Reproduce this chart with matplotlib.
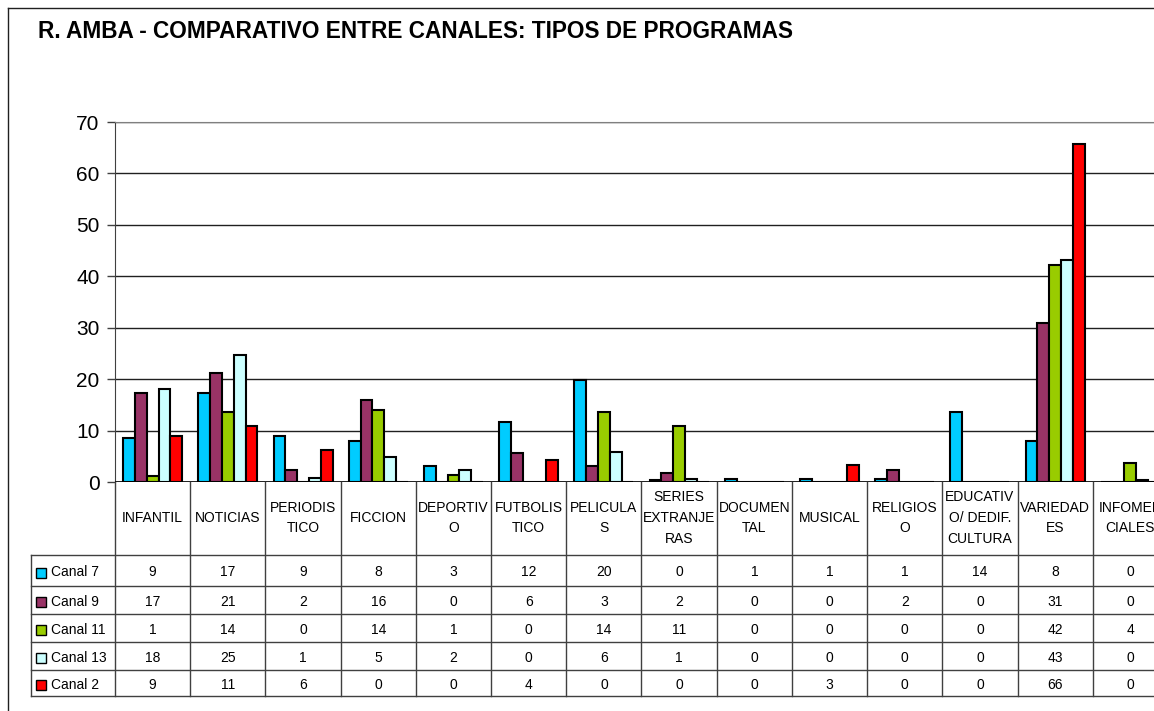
import numpy as np
import matplotlib.pyplot as plt
from matplotlib.lines import Line2D
from matplotlib.patches import Rectangle

plt.rcParams['font.family'] = ['Liberation Sans', 'DejaVu Sans']

# Program types (header of the data table)
categories = ['INFANTIL', 'NOTICIAS', 'PERIODIS\nTICO', 'FICCION', 'DEPORTIV\nO',
              'FUTBOLIS\nTICO', 'PELICULA\nS', 'SERIES\nEXTRANJE\nRAS', 'DOCUMEN\nTAL',
              'MUSICAL', 'RELIGIOS\nO', 'EDUCATIV\nO/ DEDIF.\nCULTURA', 'VARIEDAD\nES',
              'INFOMER\nCIALES']

channels = ['Canal 7', 'Canal 9', 'Canal 11', 'Canal 13', 'Canal 2']
colors = ['#00CCFF', '#993366', '#99CC00', '#CCFFFF', '#FF0000']

# bar heights (table shows them rounded)
canal_7 = [8.6, 17.3, 9.0, 7.9, 3.2, 11.7, 19.8, 0.4, 0.5, 0.5, 0.5, 13.7, 7.9, 0.0]
canal_9 = [17.4, 21.1, 2.4, 16.0, 0.0, 5.6, 3.2, 1.7, 0.0, 0.0, 2.4, 0.0, 30.9, 0.0]
canal_11 = [1.2, 13.7, 0.0, 14.0, 1.3, 0.0, 13.7, 10.9, 0.0, 0.0, 0.0, 0.0, 42.1, 3.6]
canal_13 = [18.0, 24.6, 0.8, 4.8, 2.4, 0.0, 5.9, 0.5, 0.0, 0.0, 0.0, 0.0, 43.2, 0.4]
canal_2 = [9.0, 10.9, 6.3, 0.0, 0.0, 4.3, 0.0, 0.0, 0.0, 3.4, 0.0, 0.0, 65.8, 0.0]
series = [canal_7, canal_9, canal_11, canal_13, canal_2]

W, H = 1154, 711
fig = plt.figure(figsize=(W / 100, H / 100), dpi=100)

# plot area runs past the right edge of the image, like the cropped original
px_left, px_right, px_top, px_base = 115, 1168, 122, 482
ax = fig.add_axes([px_left / W, 1 - px_base / H, (px_right - px_left) / W, (px_base - px_top) / H])

n = len(categories)
bw = 0.157
x = np.arange(n) + 0.5
for i, (vals, c) in enumerate(zip(series, colors)):
    ax.bar(x + (i - 2) * bw, vals, width=bw, color=c, edgecolor='black', linewidth=1.5, zorder=3)

ax.set_xlim(0, n)
ax.set_ylim(0, 70)
ax.set_yticks(range(0, 71, 10))
ax.tick_params(axis='y', labelsize=15, length=6, width=1, color='#404040', pad=5)
ax.set_xticks([])
ax.yaxis.grid(True, color='#202020', linewidth=1)
ax.set_axisbelow(True)
for s in ['right', 'bottom']:
    ax.spines[s].set_visible(False)
ax.spines['top'].set_color('#808080')
ax.spines['left'].set_color('#404040')
ax.axhline(0, color='black', linewidth=1.2, zorder=4)

# data table below the plot, y in pixel units
tab = fig.add_axes([px_left / W, 0, (px_right - px_left) / W, 1 - px_base / H])
tab.set_xlim(0, n)
tab.set_ylim(H, px_base)
tab.axis('off')
unit = n / (px_right - px_left)
label_left = (31 - px_left) * unit
row_lines = [555, 586, 614, 642, 670, 696]
grid_c = '#404040'

for k in range(n + 1):
    tab.plot([k, k], [px_base, row_lines[-1]], color=grid_c, lw=1, clip_on=False)
for yl in row_lines:
    tab.plot([label_left, n], [yl, yl], color=grid_c, lw=1, clip_on=False)
tab.plot([label_left, label_left], [row_lines[0], row_lines[-1]], color=grid_c, lw=1, clip_on=False)

for k, cat in enumerate(categories):
    tab.text(k + 0.5, 518, cat, ha='center', va='center', fontsize=10,
             linespacing=1.6, clip_on=False)

for r, (name, vals, c) in enumerate(zip(channels, series, colors)):
    yc = (row_lines[r] + row_lines[r + 1]) / 2 + 2
    tab.add_patch(Rectangle(((36 - px_left) * unit, yc - 5), 10 * unit, 10,
                            facecolor=c, edgecolor='black', lw=1, clip_on=False))
    tab.text((51 - px_left) * unit, yc, name, ha='left', va='center', fontsize=10)
    for k, v in enumerate(vals):
        tab.text(k + 0.5, yc, str(int(v + 0.5)), ha='center', va='center', fontsize=10)

# title and chart border
fig.text(38 / W, 1 - 31 / H, 'R. AMBA - COMPARATIVO ENTRE CANALES: TIPOS DE PROGRAMAS',
         fontsize=16.3, fontweight='bold', ha='left', va='center')
fig.add_artist(Line2D([8 / W, 8 / W], [1 - 8 / H, 0], color='#202020', lw=1))
fig.add_artist(Line2D([8 / W, 1], [1 - 8 / H, 1 - 8 / H], color='#202020', lw=1))

fig.savefig('out.png', dpi=100)
